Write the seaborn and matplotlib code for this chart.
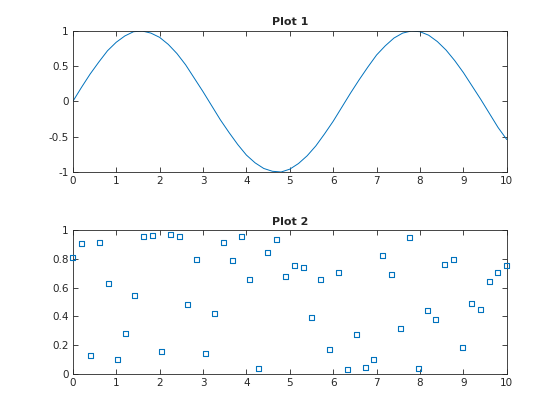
import matplotlib
matplotlib.use("Agg")
import matplotlib.pyplot as plt
import seaborn as sns
import pandas as pd

sns.set_style("ticks")
plt.rcParams["font.family"] = ["DejaVu Sans"]

# Plot 1: sine curve
x_line = [i * 0.2 for i in range(51)]
y_line = [0.00, 0.20, 0.39, 0.56, 0.72, 0.84, 0.93, 0.99, 1.00, 0.97,
          0.91, 0.81, 0.68, 0.52, 0.33, 0.14, -0.06, -0.26, -0.44, -0.61,
          -0.76, -0.87, -0.95, -0.99, -1.00, -0.96, -0.88, -0.77, -0.63, -0.46,
          -0.28, -0.08, 0.12, 0.31, 0.49, 0.66, 0.79, 0.90, 0.97, 1.00,
          0.99, 0.94, 0.85, 0.73, 0.58, 0.41, 0.22, 0.03, -0.17, -0.37,
          -0.54]

# Plot 2: 50 scattered points
x_pts = [10 * i / 49 for i in range(50)]
y_pts = [0.8147, 0.9058, 0.1270, 0.9134, 0.6324, 0.0975, 0.2785, 0.5469, 0.9575, 0.9649,
         0.1576, 0.9706, 0.9572, 0.4854, 0.8003, 0.1419, 0.4218, 0.9157, 0.7922, 0.9595,
         0.6557, 0.0357, 0.8491, 0.9340, 0.6787, 0.7577, 0.7431, 0.3922, 0.6555, 0.1712,
         0.7060, 0.0318, 0.2769, 0.0462, 0.0971, 0.8235, 0.6948, 0.3171, 0.9502, 0.0344,
         0.4387, 0.3816, 0.7655, 0.7952, 0.1869, 0.4898, 0.4456, 0.6463, 0.7094, 0.7547]

blue = "#0072BD"
axcol = "#262626"

df_line = pd.DataFrame({"x": x_line, "y": y_line})
df_pts = pd.DataFrame({"x": x_pts, "y": y_pts})

fig = plt.figure(figsize=(5.6, 4.2), dpi=100)
ax1 = fig.add_axes([0.13, 0.5905, 0.775, 0.3357])
ax2 = fig.add_axes([0.13, 0.11, 0.775, 0.3412])

sns.lineplot(data=df_line, x="x", y="y", ax=ax1, color=blue, linewidth=0.7)
sns.scatterplot(data=df_pts, x="x", y="y", ax=ax2, marker="s", s=13,
                facecolor="none", edgecolor=blue, linewidth=0.8, clip_on=False,
                zorder=3)

ax1.set_ylim(-1, 1)
ax1.set_yticks([-1, -0.5, 0, 0.5, 1])
ax1.set_yticklabels(["-1", "-0.5", "0", "0.5", "1"])
ax1.set_title("Plot 1", fontsize=8, fontweight="bold", pad=4)

ax2.set_ylim(0, 1)
ax2.set_yticks([0, 0.2, 0.4, 0.6, 0.8, 1])
ax2.set_yticklabels(["0", "0.2", "0.4", "0.6", "0.8", "1"])
ax2.set_title("Plot 2", fontsize=8, fontweight="bold", pad=4)

for ax in (ax1, ax2):
    ax.set_xlim(0, 10)
    ax.set_xticks(range(11))
    ax.set_xticklabels([str(i) for i in range(11)])
    ax.set_xlabel("")
    ax.set_ylabel("")
    for sp in ax.spines.values():
        sp.set_visible(True)
        sp.set_color(axcol)
        sp.set_linewidth(0.6)
    ax.tick_params(direction="in", length=3.5, width=0.6, colors=axcol,
                   labelsize=7.5, top=True, right=True, pad=3)

fig.savefig("out.png", dpi=100)
